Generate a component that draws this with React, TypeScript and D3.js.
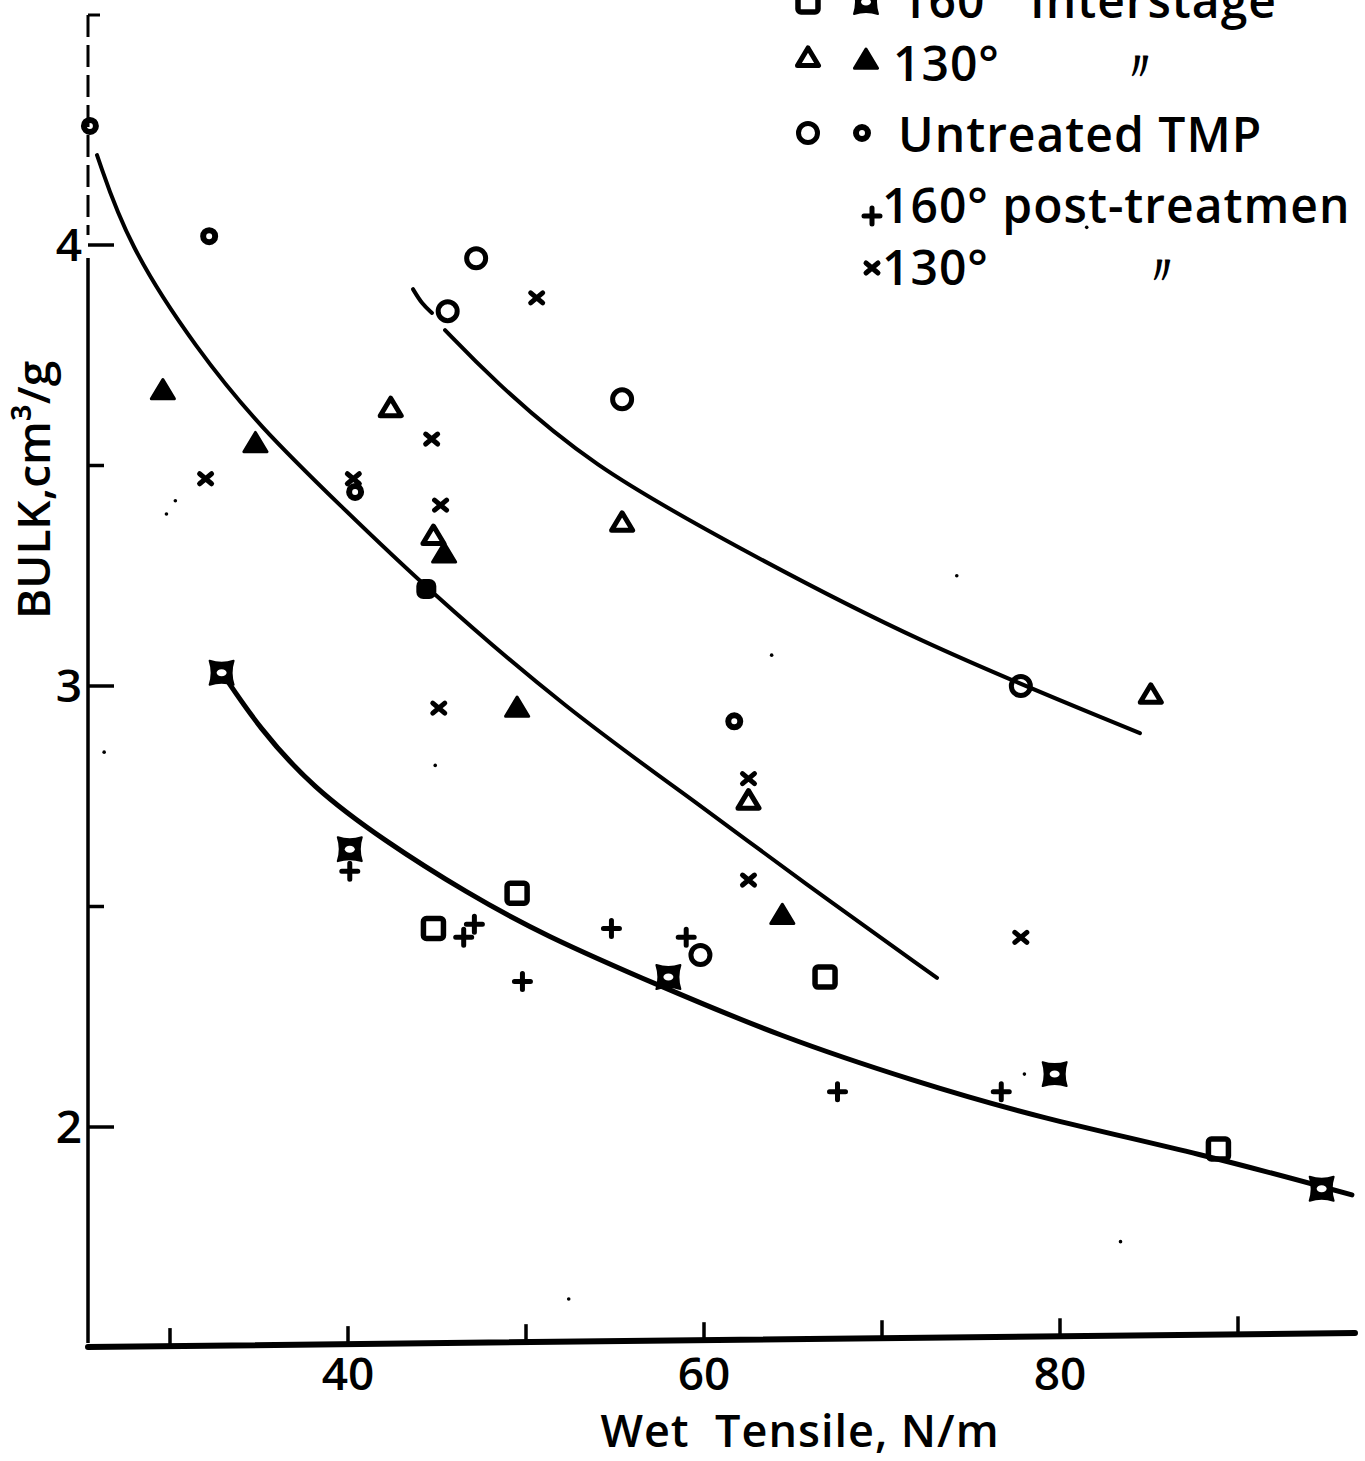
import React from 'react';
import * as d3 from 'd3';

// values (wet tensile N/m, bulk cm3/g)
const openSquares = [
  [44.8, 2.45], [49.5, 2.53], [66.8, 2.34], [88.9, 1.95],
];
const filledSquares = [
  [32.9, 3.03], [40.1, 2.63], [58.0, 2.34], [79.7, 2.12], [94.7, 1.86],
];
const openTriangles = [
  [42.4, 3.63], [44.8, 3.34], [55.4, 3.37], [62.5, 2.74], [85.1, 2.98],
];
const filledTriangles = [
  [29.6, 3.67], [34.8, 3.55], [45.4, 3.30], [49.5, 2.95], [64.4, 2.48],
];
const openCircles = [
  [47.2, 3.97], [45.6, 3.85], [55.4, 3.65], [77.8, 3.0], [59.8, 2.39],
];
const filledCircles = [
  [25.5, 4.27], [32.2, 4.02], [40.4, 3.44], [61.7, 2.92],
];
const solidDots = [[44.4, 3.22]];
const plusPoints = [
  [40.1, 2.58], [46.5, 2.43], [47.1, 2.46], [49.8, 2.33], [54.8, 2.45],
  [59.0, 2.43], [67.5, 2.08], [76.7, 2.08],
];
const crossPoints = [
  [50.6, 3.88], [44.7, 3.56], [45.2, 3.41], [32.0, 3.47], [45.1, 2.95],
  [62.5, 2.56], [77.8, 2.43], [62.5, 2.79], [40.3, 3.47],
];
const specks = [
  [30.3, 3.42], [29.8, 3.39], [74.2, 3.25], [63.8, 3.07], [52.4, 1.61],
  [83.4, 1.74], [44.9, 2.82], [26.3, 2.85], [78.0, 2.12], [81.5, 4.04],
];

// hand-drawn fitted curves
const curveUpperHook = [[43.65, 3.90], [44.16, 3.866], [44.72, 3.846]];
const curveUpper = [
  [45.45, 3.807], [48.0, 3.70], [53.6, 3.50], [61.85, 3.315], [71.74, 3.104],
  [84.49, 2.893],
];
const curveMiddle = [
  [25.9, 4.204], [27.64, 4.0], [31.52, 3.762], [35.06, 3.587], [39.55, 3.41],
  [44.33, 3.224], [52.3, 2.946], [59.78, 2.73], [65.39, 2.56], [73.09, 2.338],
];
const curveLower = [
  [32.92, 3.03], [35.0, 2.905], [38.0, 2.77], [42.0, 2.65], [46.7, 2.53],
  [51.0, 2.435], [57.5, 2.32], [64.3, 2.205], [71.7, 2.105], [78.9, 2.02],
  [87.9, 1.94], [96.4, 1.846],
];

const xTicks = [30, 40, 50, 60, 70, 80, 90];
const xTickLabels = [40, 60, 80];
const yTicks = [2, 2.5, 3, 3.5, 4];
const yTickLabels = [2, 3, 4];

const W = 1365;
const H = 1461;
const FONT = "'Open Sans', 'DejaVu Sans', sans-serif";

const x = d3.scaleLinear().domain([40, 80]).range([348, 1060]);
const y = d3.scaleLinear().domain([2, 4]).range([1127, 245]);

const line = d3
  .line<number[]>()
  .x((d) => x(d[0]))
  .y((d) => y(d[1]))
  .curve(d3.curveBasis);

const tri = (cx: number, cy: number, s: number) =>
  `M${cx},${cy - s} L${cx + s * 1.05},${cy + s * 0.75} L${cx - s * 1.05},${cy + s * 0.75} Z`;

type P = { cx: number; cy: number };

const OpenSquare = ({ cx, cy }: P) => (
  <rect x={cx - 10} y={cy - 10} width={20} height={20} rx={3} fill="none" stroke="#000" strokeWidth={5.5} />
);
const FilledSquare = ({ cx, cy }: P) => (
  <g>
    <path
      d={`M${cx - 12},${cy - 12} Q${cx},${cy - 8} ${cx + 12},${cy - 12} Q${cx + 8},${cy} ${cx + 12},${cy + 12} Q${cx},${cy + 8} ${cx - 12},${cy + 12} Q${cx - 8},${cy} ${cx - 12},${cy - 12} Z`}
      fill="#000"
      stroke="#000"
      strokeWidth={2}
      strokeLinejoin="round"
    />
    <ellipse cx={cx} cy={cy} rx={5} ry={3.5} fill="#fff" />
  </g>
);
const OpenTriangle = ({ cx, cy }: P) => (
  <path d={tri(cx, cy, 10)} fill="none" stroke="#000" strokeWidth={5} strokeLinejoin="round" />
);
const FilledTriangle = ({ cx, cy }: P) => (
  <path d={tri(cx, cy, 11)} fill="#000" stroke="#000" strokeWidth={3} strokeLinejoin="round" />
);
const OpenCircle = ({ cx, cy }: P) => (
  <circle cx={cx} cy={cy} r={9.5} fill="none" stroke="#000" strokeWidth={5} />
);
const FilledCircle = ({ cx, cy }: P) => (
  <circle cx={cx} cy={cy} r={6} fill="none" stroke="#000" strokeWidth={6} />
);
const Plus = ({ cx, cy }: P) => (
  <path d={`M${cx - 8},${cy} H${cx + 8} M${cx},${cy - 8} V${cy + 8}`} stroke="#000" strokeWidth={5} strokeLinecap="round" />
);
const Cross = ({ cx, cy }: P) => (
  <path d={`M${cx - 6},${cy - 5} L${cx + 6},${cy + 5} M${cx + 6},${cy - 5} L${cx - 6},${cy + 5}`} stroke="#000" strokeWidth={5} strokeLinecap="round" />
);

const App = () => {
  const left = 88;
  const right = 1355;
  const top = 15;
  const bottom = 1343;

  const textStyle = { fontFamily: FONT, fontWeight: 600, fill: '#000' } as const;

  return (
    <svg width={W} height={H} style={{ position: 'absolute', left: 0, top: 0, background: '#fff' }}>
      <rect width={W} height={H} fill="#fff" />

      {/* y axis, dashed near the top */}
      <line x1={left} y1={top} x2={left} y2={235} stroke="#000" strokeWidth={3} strokeDasharray="22 8" />
      <line x1={left} y1={258} x2={left} y2={bottom} stroke="#000" strokeWidth={3.5} />
      <line x1={left} y1={top} x2={left + 12} y2={top} stroke="#000" strokeWidth={3} />
      {yTicks.map((t) => (
        <line key={t} x1={left} y1={y(t)} x2={left + (t % 1 === 0 ? 26 : 16)} y2={y(t)} stroke="#000" strokeWidth={3.5} />
      ))}
      {yTickLabels.map((t) => (
        <text key={t} x={left - 6} y={y(t) + 16} textAnchor="end" fontSize={46} {...textStyle}>
          {t}
        </text>
      ))}
      <text
        transform={`translate(50,490) rotate(-90)`}
        textAnchor="middle"
        fontSize={46}
        {...textStyle}
      >
        BULK,cm³/g
      </text>

      {/* x axis */}
      <line x1={left} y1={bottom + 4} x2={right} y2={bottom - 10} stroke="#000" strokeWidth={6} strokeLinecap="round" />
      {xTicks.map((t) => {
        const px = x(t);
        const by = bottom + 4 - ((px - left) / (right - left)) * 14;
        return <line key={t} x1={px} y1={by} x2={px} y2={by - 18} stroke="#000" strokeWidth={3.5} />;
      })}
      {xTickLabels.map((t) => (
        <text key={t} x={x(t)} y={1390} textAnchor="middle" fontSize={46} {...textStyle}>
          {t}
        </text>
      ))}
      <text x={800} y={1447} textAnchor="middle" fontSize={45} letterSpacing={1} {...textStyle} xmlSpace="preserve">
        Wet  Tensile, N/m
      </text>

      {/* fitted curves */}
      {[curveUpperHook, curveUpper, curveMiddle, curveLower].map((c, i) => (
        <path key={i} d={line(c) || ''} fill="none" stroke="#000" strokeWidth={i === 3 ? 5 : 4} strokeLinecap="round" />
      ))}

      {/* specks */}
      {specks.map((d, i) => (
        <circle key={i} cx={x(d[0])} cy={y(d[1])} r={1.8} fill="#000" />
      ))}

      {openSquares.map((d, i) => <OpenSquare key={i} cx={x(d[0])} cy={y(d[1])} />)}
      {filledSquares.map((d, i) => <FilledSquare key={i} cx={x(d[0])} cy={y(d[1])} />)}
      {openTriangles.map((d, i) => <OpenTriangle key={i} cx={x(d[0])} cy={y(d[1])} />)}
      {filledTriangles.map((d, i) => <FilledTriangle key={i} cx={x(d[0])} cy={y(d[1])} />)}
      {openCircles.map((d, i) => <OpenCircle key={i} cx={x(d[0])} cy={y(d[1])} />)}
      {filledCircles.map((d, i) => <FilledCircle key={i} cx={x(d[0])} cy={y(d[1])} />)}
      {solidDots.map((d, i) => (
        <rect key={i} x={x(d[0]) - 10} y={y(d[1]) - 10} width={20} height={20} rx={7} fill="#000" />
      ))}
      {plusPoints.map((d, i) => <Plus key={i} cx={x(d[0])} cy={y(d[1])} />)}
      {crossPoints.map((d, i) => <Cross key={i} cx={x(d[0])} cy={y(d[1])} />)}

      {/* legend */}
      <g>
        <OpenSquare cx={808} cy={2} />
        <FilledSquare cx={866} cy={2} />
        <text x={900} y={18} fontSize={48} letterSpacing={1} {...textStyle}>160°</text>
        <text x={1030} y={18} fontSize={48} letterSpacing={1} {...textStyle}>Interstage</text>

        <OpenTriangle cx={808} cy={58} />
        <FilledTriangle cx={866} cy={60} />
        <text x={893} y={81} fontSize={48} letterSpacing={1} {...textStyle}>130°</text>
        <text x={1120} y={80} fontSize={40} {...textStyle}>〃</text>

        <OpenCircle cx={808} cy={133} />
        <FilledCircle cx={862} cy={133} />
        <text x={898} y={152} fontSize={48} letterSpacing={1} {...textStyle}>Untreated TMP</text>

        <Plus cx={872} cy={216} />
        <text x={882} y={223} fontSize={48} letterSpacing={1} {...textStyle}>160° post-treatmen</text>

        <Cross cx={872} cy={268} />
        <text x={882} y={285} fontSize={48} letterSpacing={1} {...textStyle}>130°</text>
        <text x={1142} y={284} fontSize={40} {...textStyle}>〃</text>
      </g>
    </svg>
  );
};

export default App;
